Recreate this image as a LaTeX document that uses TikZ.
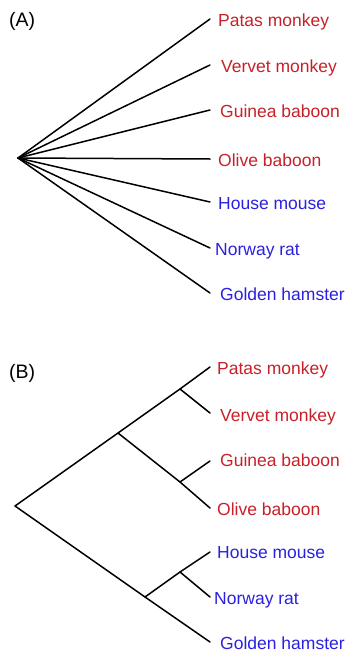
\documentclass[tikz,border=0pt]{standalone}
\usepackage{fontspec}
\setmainfont{Liberation Sans}
\definecolor{primate}{RGB}{200,32,40}
\definecolor{rodent}{RGB}{42,32,224}
\begin{document}
\begin{tikzpicture}[x=1pt,y=-1pt,
  branch/.style={line width=1.5pt,black,line cap=round},
  taxon/.style={anchor=base west,inner sep=0pt,font=\fontsize{17.5}{20}\selectfont},
  red/.style={taxon,text=primate},
  blue/.style={taxon,text=rodent},
  panel/.style={anchor=base west,inner sep=0pt,font=\fontsize{19.5}{22}\selectfont}]
\useasboundingbox (0,0) rectangle (348,653);

% ---------- (A) star tree ----------
\node[panel] (labA) at (9,26) {(A)};
\coordinate (rA) at (18,158);
\coordinate (a1) at (210,19);
\coordinate (a2) at (210,65);
\coordinate (a3) at (210,110);
\coordinate (a4) at (210,159);
\coordinate (a5) at (210,202);
\coordinate (a6) at (210,248);
\coordinate (a7) at (210,293);
\node[red]  (tA1) at (218,26)  {Patas monkey};
\node[red]  (tA2) at (221,72)  {Vervet monkey};
\node[red]  (tA3) at (220,117) {Guinea baboon};
\node[red]  (tA4) at (218,166) {Olive baboon};
\node[blue] (tA5) at (218,209) {House mouse};
\node[blue] (tA6) at (215,255) {Norway rat};
\node[blue] (tA7) at (220,300) {Golden hamster};
\foreach \t in {a1,a2,a3,a4,a5,a6,a7}
  \draw[branch] (rA) -- (\t);

% ---------- (B) resolved tree ----------
\node[panel] (labB) at (9,378) {(B)};
\coordinate (rB) at (15,506);
\coordinate (nPrim) at (118,433);
\coordinate (nCerc) at (180,389);
\coordinate (nPap) at (180,482);
\coordinate (nRod) at (145,597);
\coordinate (nMur) at (180,572);
\coordinate (b1) at (210,367);
\coordinate (b2) at (210,413);
\coordinate (b3) at (210,461);
\coordinate (b4) at (210,508);
\coordinate (b5) at (210,552);
\coordinate (b6) at (210,597);
\coordinate (b7) at (210,642);
\node[red]  (tB1) at (217,374) {Patas monkey};
\node[red]  (tB2) at (220,421) {Vervet monkey};
\node[red]  (tB3) at (220,466) {Guinea baboon};
\node[red]  (tB4) at (217,515) {Olive baboon};
\node[blue] (tB5) at (217,558) {House mouse};
\node[blue] (tB6) at (214,604) {Norway rat};
\node[blue] (tB7) at (220,649) {Golden hamster};
\draw[branch] (rB) -- (nPrim) -- (nCerc) -- (b1);
\draw[branch] (nCerc) -- (b2);
\draw[branch] (nPrim) -- (nPap) -- (b4);
\draw[branch] (nPap) -- (b3);
\draw[branch] (rB) -- (nRod) -- (b7);
\draw[branch] (nRod) -- (nMur) -- (b5);
\draw[branch] (nMur) -- (b6);
\end{tikzpicture}
\end{document}
